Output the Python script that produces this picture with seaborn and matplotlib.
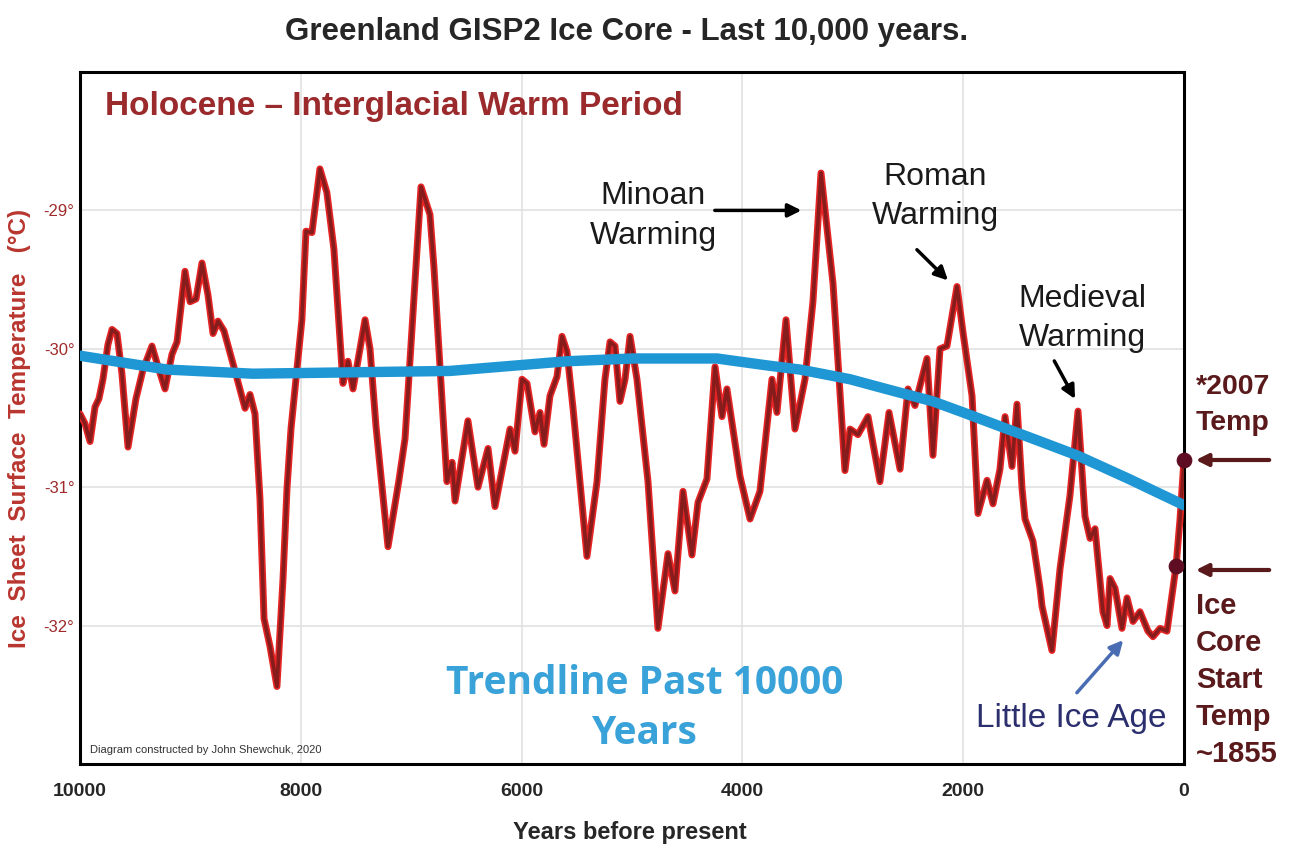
import matplotlib
matplotlib.use("Agg")
import matplotlib.pyplot as plt
import seaborn as sns
import pandas as pd

sns.set_style("whitegrid")
plt.rcParams["font.family"] = ["Liberation Sans", "DejaVu Sans"]
NARROW = ["Liberation Sans Narrow", "Liberation Sans", "DejaVu Sans"]

# GISP2 temperature trace (years before present, deg C)
years = [10000, 9955, 9909, 9864, 9828, 9792, 9747, 9710, 9665, 9620,
         9565, 9493, 9429, 9348, 9293, 9230, 9167, 9121, 9049, 9003,
         8949, 8895, 8841, 8795, 8750, 8696, 8596, 8505, 8460, 8415,
         8370, 8333, 8279, 8216, 8161, 8125, 8089, 8044, 7990, 7953,
         7899, 7827, 7764, 7700, 7618, 7573, 7527, 7418, 7373, 7319,
         7210, 7111, 7056, 6993, 6911, 6830, 6794, 6676, 6630, 6603,
         6486, 6395, 6304, 6241, 6105, 6060, 5996, 5951, 5879, 5833,
         5797, 5743, 5679, 5634, 5589, 5534, 5408, 5317, 5245, 5199,
         5154, 5109, 5063, 5018, 4955, 4855, 4765, 4674, 4611, 4538,
         4457, 4402, 4321, 4248, 4185, 4140, 4022, 3931, 3841, 3732,
         3687, 3605, 3524, 3433, 3361, 3288, 3179, 3071, 3025, 2953,
         2862, 2754, 2672, 2572, 2500, 2437, 2328, 2274, 2210, 2147,
         2056, 2002, 1920, 1866, 1784, 1730, 1667, 1621, 1558, 1513,
         1467, 1440, 1368, 1304, 1286, 1196, 1123, 1033, 960, 897,
         851, 806, 734, 697, 670, 625, 562, 516, 462, 399,
         326, 281, 217, 154, 109, 72, 36, 0]
temps = [-30.47, -30.54, -30.67, -30.42, -30.36, -30.22, -29.97, -29.86, -29.89, -30.18,
         -30.71, -30.36, -30.15, -29.98, -30.13, -30.29, -30.04, -29.95, -29.44, -29.66,
         -29.64, -29.38, -29.61, -29.89, -29.80, -29.87, -30.16, -30.43, -30.33, -30.47,
         -31.08, -31.95, -32.15, -32.44, -31.66, -31.01, -30.58, -30.22, -29.79, -29.15,
         -29.16, -28.70, -28.87, -29.28, -30.25, -30.09, -30.29, -29.79, -30.00, -30.56,
         -31.43, -30.95, -30.65, -29.86, -28.83, -29.03, -29.41, -30.96, -30.82, -31.10,
         -30.52, -31.00, -30.72, -31.14, -30.58, -30.74, -30.22, -30.25, -30.60, -30.46,
         -30.69, -30.34, -30.20, -29.91, -30.02, -30.43, -31.50, -30.96, -30.22, -29.95,
         -29.98, -30.38, -30.22, -29.91, -30.22, -30.96, -32.02, -31.48, -31.75, -31.03,
         -31.49, -31.11, -30.94, -30.13, -30.49, -30.29, -30.92, -31.23, -31.03, -30.22,
         -30.46, -29.79, -30.58, -30.22, -29.66, -28.73, -29.53, -30.88, -30.58, -30.62,
         -30.49, -30.96, -30.46, -30.87, -30.29, -30.41, -30.07, -30.77, -30.00, -29.98,
         -29.55, -29.88, -30.34, -31.19, -30.95, -31.12, -30.87, -30.49, -30.85, -30.40,
         -31.01, -31.23, -31.39, -31.73, -31.86, -32.18, -31.59, -31.06, -30.45, -31.21,
         -31.37, -31.30, -31.90, -32.00, -31.66, -31.73, -32.02, -31.80, -31.97, -31.90,
         -32.04, -32.08, -32.02, -32.04, -31.78, -31.57, -31.23, -30.80]

trend_years = [10000, 9212, 8433, 6649, 5589, 4991, 4230, 3777, 3478, 3025,
               2700, 2274, 2000, 1667, 1300, 969, 500, 0]
trend_temps = [-30.05, -30.15, -30.18, -30.16, -30.09, -30.07, -30.07, -30.12, -30.15, -30.22,
               -30.29, -30.38, -30.46, -30.56, -30.67, -30.77, -30.94, -31.13]

marker_years = [0, 75]
marker_temps = [-30.80, -31.57]

W, H = 1293, 852
def fx(px):
    return px / W
def fy(py):
    return 1 - py / H

fig = plt.figure(figsize=(W / 100, H / 100), dpi=100)
ax = fig.add_axes([80 / W, (H - 764) / H, (1184 - 80) / W, (764 - 72) / H])

df = pd.DataFrame({"year": years, "temp": temps})
tr = pd.DataFrame({"year": trend_years, "temp": trend_temps})

sns.lineplot(data=df, x="year", y="temp", color="#e52525", lw=5, ax=ax, zorder=3)
sns.lineplot(data=df, x="year", y="temp", color="#861c1c", lw=2.6, ax=ax, zorder=4)
sns.lineplot(data=tr, x="year", y="temp", color="#1f97d4", lw=7.5, ax=ax, zorder=5)
sns.scatterplot(x=marker_years, y=marker_temps, color="#5e0d22", s=110,
                edgecolor="#5e0d22", ax=ax, zorder=6, clip_on=False)

ax.set_xlim(10000, 0)
ax.set_ylim(-33, -28)
ax.set_xticks(range(0, 10001, 2000))
ax.set_xticklabels([str(v) for v in range(0, 10001, 2000)], family=NARROW,
                   fontweight="bold", fontsize=14)
ax.set_yticks([-32, -31, -30, -29])
ax.set_yticklabels(["-32°", "-31°", "-30°", "-29°"], family=NARROW,
                   color="#9e2a2b", fontsize=12)
ax.tick_params(axis="x", length=0, pad=14)
ax.tick_params(axis="y", length=0, pad=4)
ax.grid(color="#e2e2e2", lw=1.2)
for s in ax.spines.values():
    s.set_visible(True)
    s.set_color("black")
    s.set_linewidth(2.2)
ax.set_xlabel("")
ax.set_ylabel("")

fig.text(fx(627), fy(32), "Greenland GISP2 Ice Core - Last 10,000 years.", family=NARROW,
         fontweight="bold", fontsize=22.5, ha="center", va="center")
fig.text(fx(630), fy(832), "Years before present", family=NARROW,
         fontweight="bold", fontsize=17, ha="center", va="center")
fig.text(fx(20), fy(428), "Ice  Sheet  Surface  Temperature   (°C)", rotation=90,
         fontweight="bold", fontsize=17.5, color="#b8362f", ha="center", va="center")

fig.text(fx(105), fy(106), "Holocene – Interglacial Warm Period", fontweight="bold",
         fontsize=24, color="#9b2a2c", ha="left", va="center")
fig.text(fx(90), fy(750), "Diagram constructed by John Shewchuk, 2020", family=NARROW,
         fontsize=8, color="#333333", ha="left", va="center")

ax.text(4810, -29.04, "Minoan\nWarming", fontsize=23, ha="center", va="center",
        linespacing=1.4, color="#1a1a1a")
ax.annotate("", xy=(3440, -29.0), xytext=(4275, -29.0),
            arrowprops=dict(arrowstyle="-|>", color="black", lw=2.5, mutation_scale=20))
ax.text(2255, -28.9, "Roman\nWarming", fontsize=23, ha="center", va="center",
        linespacing=1.4, color="#1a1a1a")
ax.annotate("", xy=(2120, -29.52), xytext=(2437, -29.27),
            arrowprops=dict(arrowstyle="-|>", color="black", lw=2.5, mutation_scale=20))
ax.text(924, -29.78, "Medieval\nWarming", fontsize=23, ha="center", va="center",
        linespacing=1.4, color="#1a1a1a")
ax.annotate("", xy=(975, -30.38), xytext=(1187, -30.07),
            arrowprops=dict(arrowstyle="-|>", color="black", lw=2.5, mutation_scale=20))

ax.text(4882, -32.6, "Trendline Past 10000\nYears", family=["Open Sans", "DejaVu Sans"],
        fontweight="bold", fontsize=28, color="#39a2d8", ha="center", va="center",
        linespacing=1.38)
ax.text(1024, -32.67, "Little Ice Age", fontsize=24, color="#2b2f6e",
        ha="center", va="center")
ax.annotate("", xy=(534, -32.09), xytext=(987, -32.50),
            arrowprops=dict(arrowstyle="-|>", color="#4a6cb3", lw=2.5, mutation_scale=20))

maroon = "#5a1a1c"
fig.text(fx(1196), fy(405), "*2007\nTemp", fontweight="bold", fontsize=20.5,
         color=maroon, ha="left", va="center", linespacing=1.5)
fig.text(fx(1196), fy(680), "Ice\nCore\nStart\nTemp\n~1855", fontweight="bold",
         fontsize=21, color=maroon, ha="left", va="center", linespacing=1.4)
for py in (460, 570):
    fig.add_artist(matplotlib.patches.FancyArrowPatch(
        (fx(1272), fy(py)), (fx(1193), fy(py)), transform=fig.transFigure,
        arrowstyle="-|>", color=maroon, lw=3, mutation_scale=18))

fig.savefig("out.png", dpi=100)
